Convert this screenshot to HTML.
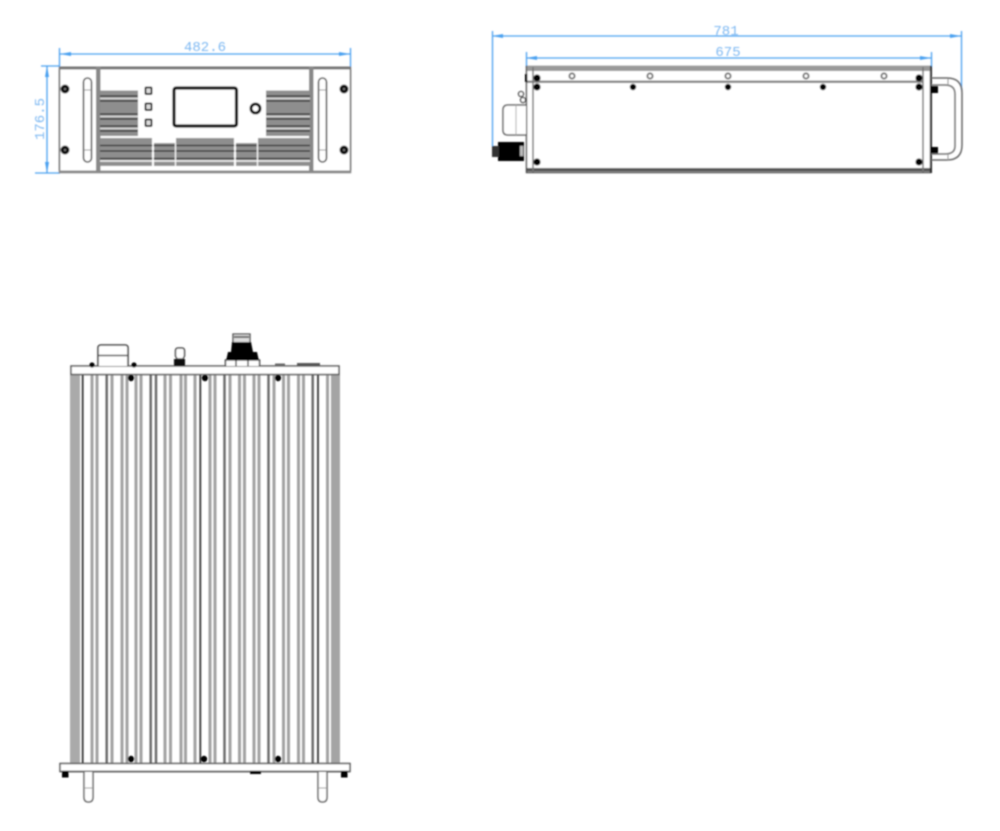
<!DOCTYPE html>
<html><head><meta charset="utf-8"><style>
html,body{margin:0;padding:0;background:#fff;width:1000px;height:831px;overflow:hidden}
svg{display:block}
.d{font-family:"Liberation Mono",monospace;font-size:14px;fill:#7db8f2}
</style></head><body>
<svg width="1000" height="831" viewBox="0 0 1000 831" xmlns="http://www.w3.org/2000/svg">
<defs>
<filter id="b" x="-5%" y="-5%" width="110%" height="110%"><feGaussianBlur stdDeviation="0.7"/></filter>
</defs>
<g filter="url(#b)">
<!-- dimensions -->
<g stroke="#4aa0f0" stroke-width="1.300" fill="none">
<path d="M60 54H350M59.500 48V67M350.500 48V67"/>
<path d="M47 66V173M41 66H60M35 173H60"/>
<path d="M492 36H961M492.500 31V146M961.500 31V90"/>
<path d="M526 58H931M526.500 52V67M931.500 52V67"/>
</g>
<g fill="#4aa0f0">
<path d="M60 54l11-2v4zM350 54l-11-2v4zM47 66l-2 11h4zM47 173l-2-11h4zM492 36l11-2v4zM961 36l-11-2v4zM526 58l11-2v4zM931 58l-11-2v4z"/>
</g>
<text class="d" x="205" y="51" text-anchor="middle">482.6</text>
<text class="d" x="726" y="35" text-anchor="middle">781</text>
<text class="d" x="728" y="56" text-anchor="middle">675</text>
<text class="d" transform="translate(44 119) rotate(-90)" text-anchor="middle">176.5</text>

<!-- FRONT VIEW -->
<rect x="59.500" y="67.500" width="291" height="105" fill="#fff" stroke="#555" stroke-width="1.400"/>
<rect x="59" y="66.500" width="292" height="3" fill="#777"/>
<rect x="59" y="170.500" width="292" height="2.500" fill="#888"/>
<rect x="96" y="67" width="4.500" height="106" fill="#888"/>
<rect x="309" y="67" width="4.500" height="106" fill="#888"/>
<rect x="83.500" y="78" width="8" height="84" rx="4" fill="#fff" stroke="#555" stroke-width="1.600"/>
<rect x="318.500" y="78" width="8" height="84" rx="4" fill="#fff" stroke="#555" stroke-width="1.600"/>
<path d="M84 90H91M84 150H91M319 90H326M319 150H326" stroke="#999"/>
<g fill="#111"><circle cx="65" cy="89" r="4.500"/><circle cx="65" cy="150" r="4.500"/><circle cx="344" cy="89" r="4.500"/><circle cx="344" cy="150" r="4.500"/></g>
<g fill="#888"><circle cx="65" cy="89" r="1"/><circle cx="65" cy="150" r="1"/><circle cx="344" cy="89" r="1"/><circle cx="344" cy="150" r="1"/></g>
<!-- vents upper -->
<g fill="#8e8e8e">
<rect x="100" y="90.500" width="38" height="45.500"/>
<rect x="266" y="90.500" width="44" height="45.500"/>
</g>
<g stroke="#222" stroke-width="1.200">
<path d="M100 96H138M100 101H138M100 114H138M100 119H138M100 126H138M100 131H138"/>
<path d="M266 96H310M266 101H310M266 114H310M266 119H310M266 126H310M266 131H310"/>
</g>
<g stroke="#eee" stroke-width="1">
<path d="M100 98.500H138M100 116.500H138M100 128.500H138"/>
<path d="M266 98.500H310M266 116.500H310M266 128.500H310"/>
</g>
<!-- vents lower -->
<g fill="#8e8e8e">
<rect x="100" y="138" width="52" height="28"/>
<rect x="154" y="143" width="21" height="23"/>
<rect x="176" y="138" width="58" height="28"/>
<rect x="236" y="143" width="21" height="23"/>
<rect x="258" y="138" width="52" height="28"/>
</g>
<g stroke="#222" stroke-width="1.300"><path d="M100 145.500H310M100 151H310M100 158.500H310"/></g>
<g stroke="#fff" stroke-width="1.200"><path d="M153 143V166M175.500 143V166M235 143V166M257.500 143V166M100 161H310"/></g>
<!-- buttons -->
<g fill="#ddd" stroke="#222" stroke-width="2">
<rect x="145.500" y="87.500" width="6" height="6.500" rx="1"/>
<rect x="145.500" y="103.500" width="6" height="6.500" rx="1"/>
<rect x="145.500" y="119.500" width="6" height="6.500" rx="1"/>
</g>
<rect x="174" y="88" width="62.500" height="38" rx="2" fill="#fff" stroke="#000" stroke-width="3.200"/>
<circle cx="255.500" cy="108.500" r="4.500" fill="#fff" stroke="#000" stroke-width="3"/>

<!-- SIDE VIEW -->
<rect x="526.500" y="66.500" width="404" height="106" fill="#fff" stroke="#444" stroke-width="1.400"/>
<rect x="527" y="66" width="404" height="5" fill="#999"/>
<rect x="527" y="80.500" width="396" height="2.500" fill="#888"/>
<rect x="527" y="168" width="404" height="3.500" fill="#555"/>
<path d="M533 67V172M923 67V172" stroke="#777" stroke-width="1.500"/>
<path d="M931 66V173" stroke="#111" stroke-width="1.800"/>
<g fill="#fff" stroke="#777" stroke-width="2">
<circle cx="572" cy="76" r="2.600"/><circle cx="650" cy="76" r="2.600"/><circle cx="728" cy="76" r="2.600"/><circle cx="806" cy="76" r="2.600"/><circle cx="884" cy="76" r="2.600"/>
</g>
<g fill="#000">
<circle cx="633" cy="87" r="3.200"/><circle cx="728" cy="87" r="3.200"/><circle cx="823" cy="87" r="3.200"/>
<circle cx="537" cy="78" r="3.600"/><circle cx="537" cy="87" r="3.600"/><circle cx="537" cy="162" r="3.600"/>
<circle cx="919" cy="78" r="3.600"/><circle cx="919" cy="87" r="3.600"/><circle cx="919" cy="162" r="3.600"/>
<rect x="525" y="74" width="2.500" height="8"/>
<rect x="931" y="86" width="7" height="7"/><rect x="931" y="147" width="7" height="7"/>
</g>
<path d="M931 78H947Q962 78 962 93V145Q962 160 947 160H931" fill="none" stroke="#666" stroke-width="1.500"/>
<path d="M931 85H945Q955 85 955 94V146Q955 154 945 154H931" fill="none" stroke="#777" stroke-width="1.500"/>
<path d="M948 79V85M948 154V160" stroke="#999"/>
<!-- side connectors -->
<path d="M526 105H508Q503 105 503 110V130Q503 135 508 135H526" fill="#fff" stroke="#666" stroke-width="1.500"/>
<path d="M516 105V135" stroke="#aaa"/>
<circle cx="521" cy="94" r="2.500" fill="#fff" stroke="#333" stroke-width="1.300"/><circle cx="523" cy="100" r="2.500" fill="#fff" stroke="#333" stroke-width="1.300"/>
<rect x="498" y="142" width="26" height="19" fill="#000"/>
<rect x="492" y="146" width="7" height="11" fill="#333"/>
<rect x="520" y="146" width="3" height="10" fill="#bbb"/>

<!-- TOP VIEW -->
<g fill="none" stroke="#a2a2a2" stroke-width="3">
<path d="M92 375V763M97 375V763M112 375V763M122 375V763M127 375V763M136 375V763M141 375V763M165 375V763M170.500 375V763M181 375V763M185.500 375V763M195 375V763M210 375V763M215 375V763M230 375V763M239.500 375V763M244.500 375V763M254 375V763M259 375V763M274 375V763M283.500 375V763M288.500 375V763M298.500 375V763M303.500 375V763M327.500 375V763"/>
</g>
<g fill="none" stroke="#333" stroke-width="1.800">
<path d="M82.700 375V763M200.300 375V763M318 375V763"/>
</g>
<g fill="none" stroke="#666" stroke-width="2.400">
<path d="M106.700 375V763M150.700 375V763M156 375V763M224.500 375V763M268.500 375V763M312.700 375V763"/>
</g>
<rect x="70" y="375" width="10" height="388" fill="#aaa"/>
<rect x="331" y="375" width="9" height="388" fill="#a4a4a4"/>
<rect x="71" y="366" width="268" height="8.500" fill="#fff" stroke="#555" stroke-width="1.500"/>
<rect x="60" y="763.500" width="290" height="8" fill="#fff" stroke="#555" stroke-width="1.500"/>
<rect x="60" y="770.500" width="290" height="2" fill="#666"/>
<g fill="#000">
<circle cx="131" cy="378" r="3.200"/><circle cx="205" cy="378" r="3.200"/><circle cx="278" cy="378" r="3.200"/>
<circle cx="131" cy="759" r="3.200"/><circle cx="204" cy="759" r="3.200"/><circle cx="278" cy="759" r="3.200"/>
<circle cx="92" cy="365" r="2.600"/><circle cx="134" cy="365" r="2.600"/>
<rect x="62" y="771" width="6.500" height="6.500"/><rect x="341" y="771" width="6.500" height="6.500"/>
<rect x="250" y="771" width="11" height="3"/>
</g>
<!-- handles -->
<path d="M84 772V797Q84 802 88.500 802Q93 802 93 797V772M318 772V797Q318 802 322.500 802Q327 802 327 797V772" fill="#fff" stroke="#666" stroke-width="1.500"/>
<path d="M85 788H92M319 788H326" stroke="#999"/>
<!-- top accessories -->
<path d="M98 366V348Q98 345 101 345H125Q128 345 128 348V366" fill="#fff" stroke="#333" stroke-width="1.500"/>
<path d="M98 355.500H128" stroke="#555" stroke-width="1.500"/>
<path d="M175.500 356V351Q175.500 348 178 348H182Q184.500 348 184.500 351V356L183 359H177Z" fill="#fff" stroke="#444" stroke-width="1.500"/>
<rect x="174" y="359" width="11" height="7" fill="#111"/>
<path d="M233 345V334H250V345" fill="#ddd" stroke="#444" stroke-width="1.300"/>
<path d="M234 337H249" stroke="#666" stroke-width="2"/>
<path d="M232 342H251L253 352H257L259 361H226L228 352H231Z" fill="#000"/>
<path d="M225.500 366V360H259.500V366" fill="#fff" stroke="#111" stroke-width="1.300"/>
<path d="M236 360V366M248 360V366" stroke="#222" stroke-width="1.300"/>
<rect x="275" y="363.500" width="10" height="3" fill="#666"/>
<rect x="297" y="363" width="23" height="3" fill="#555"/>
</g>
</svg>
</body></html>
